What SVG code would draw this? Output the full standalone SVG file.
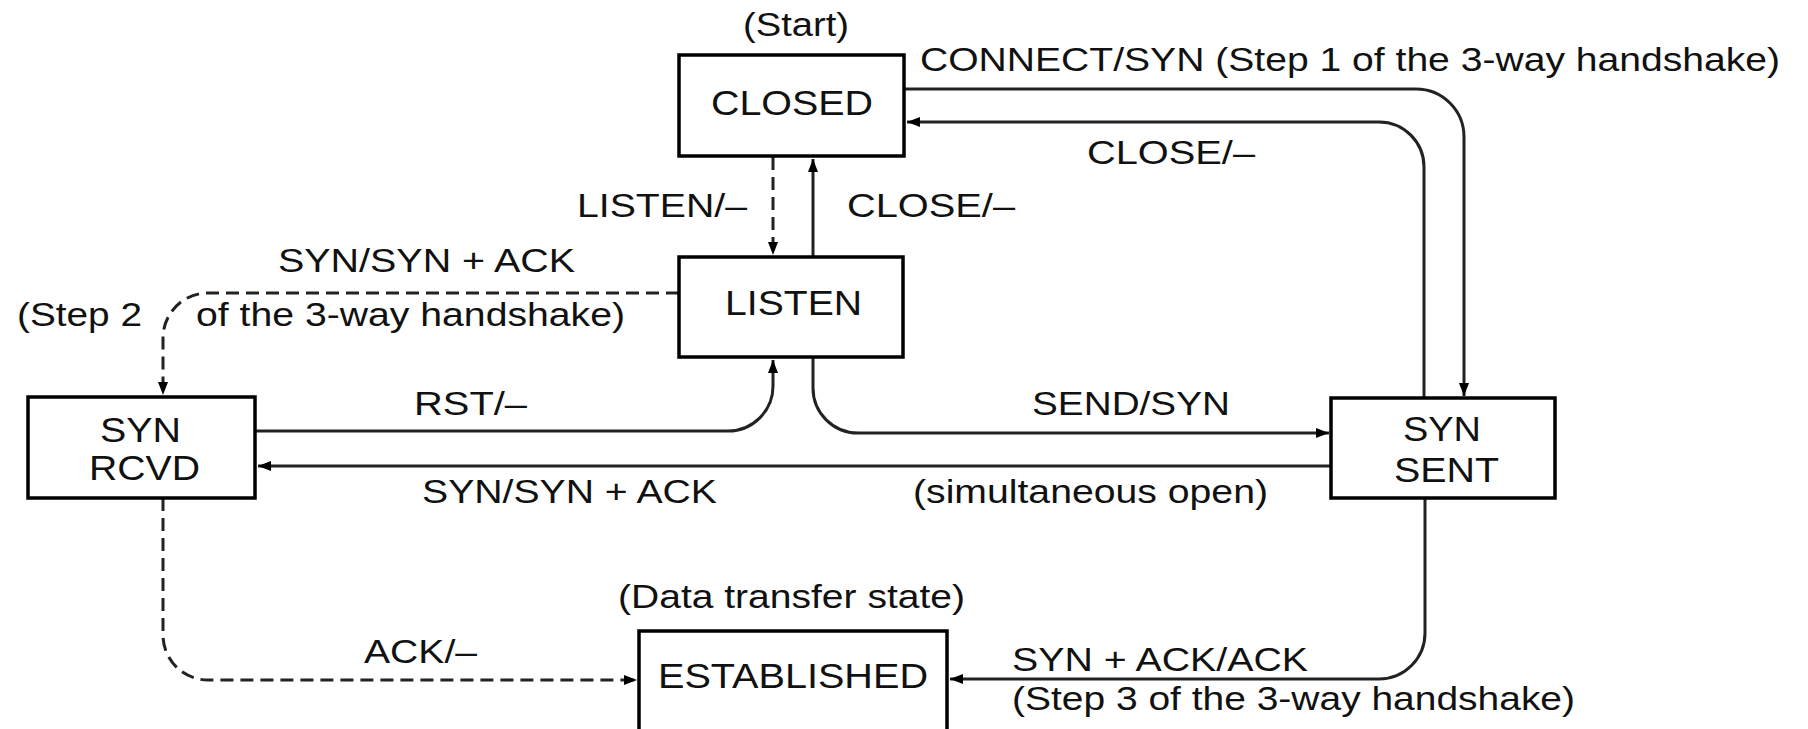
<svg xmlns="http://www.w3.org/2000/svg" width="1808" height="729" viewBox="0 0 1808 729">
  <style>
    .box { fill: #ffffff; stroke: #000000; stroke-width: 3.5; }
    .t { font-family: "Liberation Sans", Arial, sans-serif; font-size: 34px; fill: #111111; }
    .n { font-family: "Liberation Sans", Arial, sans-serif; font-size: 35px; fill: #111111; }
    .c { fill: none; stroke: #222222; stroke-width: 3; }
    .d { stroke-dasharray: 13 7; }
  </style>
  <defs>
    <marker id="arr" markerUnits="userSpaceOnUse" markerWidth="16" markerHeight="12" refX="13" refY="5" orient="auto">
      <path d="M0,0 L13,5 L0,10 z" fill="#000000"/>
    </marker>
  </defs>
  <rect width="1808" height="729" fill="#ffffff"/>

  <g id="connectors">
    <path id="e-connect" class="c" d="M905,89 H1416 A48,48 0 0 1 1464,137 V396" marker-end="url(#arr)"/>
    <path id="e-close-top" class="c" d="M1424,398 V167 A45,45 0 0 0 1379,122 H907" marker-end="url(#arr)"/>
    <path id="e-listen" class="c d" d="M773,157 V255" marker-end="url(#arr)"/>
    <path id="e-close-mid" class="c" d="M813,257 V159" marker-end="url(#arr)"/>
    <path id="e-syn-listen" class="c d" d="M679,293 H208 A45,45 0 0 0 163,338 V395" marker-end="url(#arr)"/>
    <path id="e-rst" class="c" d="M255,431 H728 A45,45 0 0 0 773,386 V360" marker-end="url(#arr)"/>
    <path id="e-send" class="c" d="M813,358 V388 A45,45 0 0 0 858,433 H1329" marker-end="url(#arr)"/>
    <path id="e-simul" class="c" d="M1331,466 H258" marker-end="url(#arr)"/>
    <path id="e-ack" class="c d" d="M163,498 V635 A45,45 0 0 0 208,680 H637" marker-end="url(#arr)"/>
    <path id="e-synack" class="c" d="M1425,498 V633 A46,46 0 0 1 1379,679 H950" marker-end="url(#arr)"/>
  </g>

  <g id="node-closed">
    <text class="t" x="743" y="36" textLength="106" lengthAdjust="spacingAndGlyphs">(Start)</text>
    <rect class="box" x="679" y="55" width="225" height="101"/>
    <text class="n" x="711" y="115" textLength="162" lengthAdjust="spacingAndGlyphs">CLOSED</text>
  </g>

  <g id="node-listen">
    <rect class="box" x="679" y="257" width="224" height="100"/>
    <text class="n" x="725" y="315" textLength="137" lengthAdjust="spacingAndGlyphs">LISTEN</text>
  </g>

  <g id="node-syn-rcvd">
    <rect class="box" x="28" y="397" width="227" height="101"/>
    <text class="n" x="100" y="442" textLength="81" lengthAdjust="spacingAndGlyphs">SYN</text>
    <text class="n" x="89" y="480" textLength="111" lengthAdjust="spacingAndGlyphs">RCVD</text>
  </g>

  <g id="node-syn-sent">
    <rect class="box" x="1331" y="398" width="224" height="100"/>
    <text class="n" x="1403" y="441" textLength="78" lengthAdjust="spacingAndGlyphs">SYN</text>
    <text class="n" x="1394" y="482" textLength="105" lengthAdjust="spacingAndGlyphs">SENT</text>
  </g>

  <g id="node-established">
    <text class="t" x="618" y="608" textLength="347" lengthAdjust="spacingAndGlyphs">(Data transfer state)</text>
    <rect class="box" x="639" y="631" width="308" height="120"/>
    <text class="n" x="658" y="688" textLength="270" lengthAdjust="spacingAndGlyphs">ESTABLISHED</text>
  </g>

  <g id="edge-labels">
    <text class="t" x="920" y="71" textLength="860" lengthAdjust="spacingAndGlyphs">CONNECT/SYN (Step 1 of the 3-way handshake)</text>
    <text class="t" x="1087" y="164" textLength="168" lengthAdjust="spacingAndGlyphs">CLOSE/–</text>
    <text class="t" x="577" y="217" textLength="170" lengthAdjust="spacingAndGlyphs">LISTEN/–</text>
    <text class="t" x="847" y="217" textLength="168" lengthAdjust="spacingAndGlyphs">CLOSE/–</text>
    <text class="t" x="278" y="272" textLength="297" lengthAdjust="spacingAndGlyphs">SYN/SYN + ACK</text>
    <text class="t" x="17" y="326" textLength="125" lengthAdjust="spacingAndGlyphs">(Step 2</text>
    <text class="t" x="196" y="326" textLength="429" lengthAdjust="spacingAndGlyphs">of the 3-way handshake)</text>
    <text class="t" x="414" y="415" textLength="113" lengthAdjust="spacingAndGlyphs">RST/–</text>
    <text class="t" x="1032" y="415" textLength="198" lengthAdjust="spacingAndGlyphs">SEND/SYN</text>
    <text class="t" x="422" y="503" textLength="295" lengthAdjust="spacingAndGlyphs">SYN/SYN + ACK</text>
    <text class="t" x="913" y="503" textLength="355" lengthAdjust="spacingAndGlyphs">(simultaneous open)</text>
    <text class="t" x="364" y="663" textLength="113" lengthAdjust="spacingAndGlyphs">ACK/–</text>
    <text class="t" x="1012" y="671" textLength="296" lengthAdjust="spacingAndGlyphs">SYN + ACK/ACK</text>
    <text class="t" x="1012" y="710" textLength="563" lengthAdjust="spacingAndGlyphs">(Step 3 of the 3-way handshake)</text>
  </g>
</svg>
